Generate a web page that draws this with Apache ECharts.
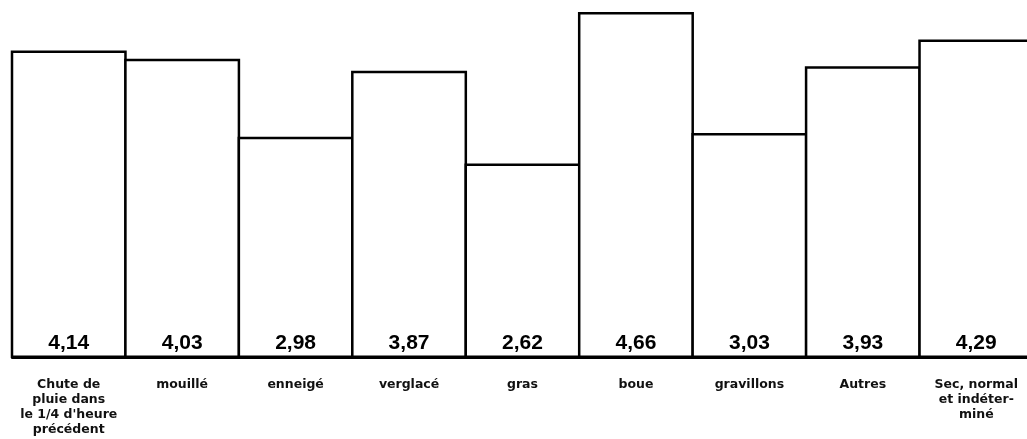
<!DOCTYPE html>
<html>
<head>
<meta charset="utf-8">
<script src="https://cdn.jsdelivr.net/npm/echarts@6/dist/echarts.min.js"></script>
<style>
    html, body { margin: 0; padding: 0; background: #fff; }
    #main { width: 1027px; height: 439px; }
</style>
</head>
<body>
<div id="main"></div>
<script>
// catégories (état de la chaussée)
var categories = [
    "Chute de\npluie dans\nle 1/4 d'heure\nprécédent",
    "mouillé",
    "enneigé",
    "verglacé",
    "gras",
    "boue",
    "gravillons",
    "Autres",
    "Sec, normal\net indéter-\nminé"
];
// valeurs des barres
var values = [4.14, 4.03, 2.98, 3.87, 2.62, 4.66, 3.03, 3.93, 4.29];

function frNumber (v) {
    return v.toFixed(2).replace(".", ",");
}

var myChart = echarts.init(document.getElementById("main"));
var option = {
    backgroundColor: "#fff",
    animation: false,
    grid: {
        left: 12,
        top: 12,
        width: 1021,
        height: 346,
        containLabel: false,
        outerBoundsMode: "none"
    },
    xAxis: {
        type: "category",
        data: categories,
        axisTick: {show: false},
        axisLine: {
            lineStyle: {color: "#000", width: 2}
        },
        axisLabel: {
            interval: 0,
            margin: 19,
            color: "#111",
            fontFamily: "DejaVu Sans, sans-serif",
            fontWeight: "bold",
            fontSize: 12.5,
            lineHeight: 15
        }
    },
    yAxis: {
        type: "value",
        min: 0,
        max: 4.66,
        show: false,
        splitLine: {show: false}
    },
    series: [{
        type: "bar",
        data: values,
        barWidth: 116,//un peu plus large que la bande: les bords se touchent
        itemStyle: {
            color: "#fff",
            borderColor: "#000",
            borderWidth: 2.5
        },
        label: {
            show: true,
            position: "insideBottom",
            distance: 4,
            color: "#000",
            fontFamily: "Liberation Sans, Arial, sans-serif",
            fontWeight: "bold",
            fontSize: 21,
            formatter: function (p) {
                return frNumber(p.value);
            }
        }
    }]
};
myChart.setOption(option);
</script>
</body>
</html>
